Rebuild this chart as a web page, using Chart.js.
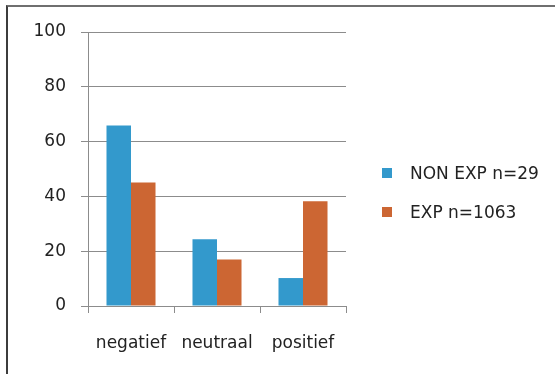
<!DOCTYPE html>
<html>
<head>
<meta charset="utf-8">
<script src="https://cdn.jsdelivr.net/npm/chart.js@4.4.1/dist/chart.umd.min.js"></script>
<style>
    html, body { margin: 0; padding: 0; background: #fff; }
    #kader {
        position: absolute; left: 6px; top: 5px; width: 600px; height: 420px;
        border-top: 2px solid #6f6f6f; border-left: 2px solid #3c3c3c;
    }
    #wrap { position: absolute; left: 0; top: 0; width: 555px; height: 374px; }
    #legenda { position: absolute; left: 382px; top: 162px; font-family: "DejaVu Sans", sans-serif; font-size: 17px; color: #222; }
    .leg-item { position: relative; height: 39px; line-height: 22px; }
    .leg-box { position: absolute; left: 0; top: 6px; width: 10px; height: 10px; }
    .leg-txt { position: absolute; left: 28px; top: 0; white-space: nowrap; }
</style>
</head>
<body>
<div id="kader"></div>
<div id="wrap"><canvas id="mijnChart" width="555" height="374"></canvas></div>
<div id="legenda"></div>

<script>
const categorieen = ['negatief', 'neutraal', 'positief'];
const nonExp = [65.9, 24.4, 10.2];
const exp = [45.1, 17.0, 38.2];
const reeksNamen = ['NON EXP n=29', 'EXP n=1063'];
const reeksKleuren = ['#3399cc', '#cc6633'];
const yTicks = [0, 20, 40, 60, 80, 100];

document.addEventListener("DOMContentLoaded", function () {

    // legenda rechts naast de grafiek
    var legenda = document.getElementById('legenda');
    reeksNamen.forEach((naam, i) => {
        let item = document.createElement('div');
        item.className = 'leg-item';
        item.innerHTML = `<span class="leg-box" style="background:${reeksKleuren[i]}"></span><span class="leg-txt">${naam}</span>`;
        legenda.appendChild(item);
    });

    var ctx = document.getElementById('mijnChart');
    new Chart(ctx.getContext('2d'), {
        type: 'bar',
        data: {
            labels: categorieen,
            datasets: [{
                label: reeksNamen[0],
                data: nonExp,
                backgroundColor: reeksKleuren[0],
                categoryPercentage: 0.57,
                barPercentage: 1
            }, {
                label: reeksNamen[1],
                data: exp,
                backgroundColor: reeksKleuren[1],
                categoryPercentage: 0.57,
                barPercentage: 1
            }]
        },
        options: {
            responsive: false,
            animation: false,
            layout: { padding: { left: 28, right: 209, top: 32, bottom: 20 } },
            plugins: { legend: { display: false }, tooltip: { enabled: false } },
            scales: {
                y: {
                    min: 0, max: 100,
                    afterFit: (s) => { s.width = 60; },
                    afterBuildTicks: (s) => { s.ticks = yTicks.map(v => ({ value: v })); },
                    ticks: { padding: 15, color: '#222', font: { family: 'DejaVu Sans', size: 17 } },
                    grid: { color: '#8c8c8c', tickLength: 7, lineWidth: 1 },
                    border: { color: '#8c8c8c' }
                },
                x: {
                    afterFit: (s) => { s.height = 48; },
                    ticks: { padding: 20, color: '#222', font: { family: 'DejaVu Sans', size: 17 } },
                    grid: { color: '#8c8c8c', drawOnChartArea: false, tickLength: 7, offset: true },
                    border: { color: '#8c8c8c' }
                }
            }
        }
    });
});
</script>
</body>
</html>
